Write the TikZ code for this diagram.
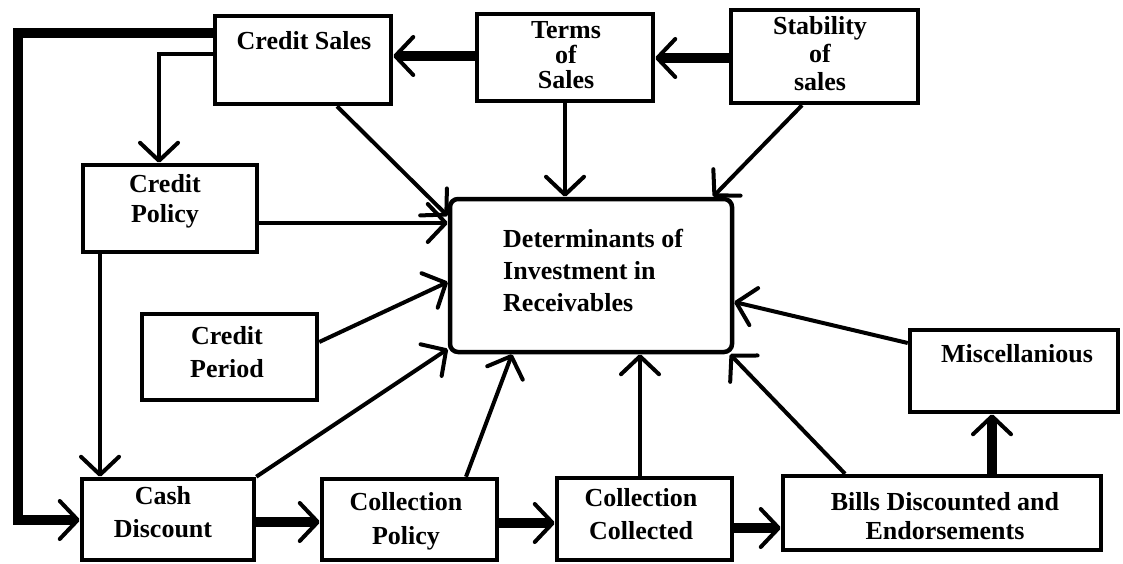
\documentclass[tikz,border=0pt]{standalone}
\usepackage{fontspec}
\setmainfont{Liberation Serif}
\usetikzlibrary{arrows.meta}
\tikzset{
  box/.style={draw,line width=4.5pt,inner sep=0pt},
  txt/.style={align=center,inner sep=0pt,font=\bfseries\fontsize{26}{33}\selectfont},
  link/.style={line width=4pt,-{Straight Barb[length=18pt,width=38pt,line width=4pt,round]}},
  mainlink/.style={line width=10pt,-{Straight Barb[length=18pt,width=38pt,line width=4pt,round]}},
}
\begin{document}
\begin{tikzpicture}[x=1pt,y=-1pt]
\useasboundingbox (0,0) rectangle (1123,564);
\node[box,minimum width=176pt,minimum height=88pt] (cs) at (303,60) {};
\node[box,minimum width=176pt,minimum height=87pt] (ts) at (565,57.5) {};
\node[box,minimum width=187pt,minimum height=93pt] (ss) at (824.5,56.5) {};
\node[box,minimum width=174pt,minimum height=87pt] (cpol) at (170,208.5) {};
\node[box,minimum width=175pt,minimum height=86pt] (cper) at (229.5,357) {};
\node[box,rounded corners=8pt,minimum width=282pt,minimum height=153pt] (det) at (591,275.5) {};
\node[box,minimum width=208pt,minimum height=82pt] (misc) at (1014,371) {};
\node[box,minimum width=172pt,minimum height=81pt] (cd) at (168,519.5) {};
\node[box,minimum width=175pt,minimum height=81pt] (colp) at (409.5,519.5) {};
\node[box,minimum width=175pt,minimum height=82pt] (colc) at (644.5,519) {};
\node[box,minimum width=318pt,minimum height=74pt] (bills) at (942,513) {};
\node[txt] (cstxt) at (304,41) {Credit Sales};
\node[txt,font=\bfseries\fontsize{26}{25}\selectfont] (tstxt) at (566,55) {Terms\\of\\Sales};
\node[txt,font=\bfseries\fontsize{26}{28}\selectfont] (sstxt) at (820,54) {Stability\\of\\sales};
\node[txt,font=\bfseries\fontsize{26}{30}\selectfont] (cpoltxt) at (165,201) {Credit\\Policy};
\node[txt] (cpertxt) at (227,352) {Credit\\Period};
\node[txt,align=left,anchor=west,font=\bfseries\fontsize{26}{32}\selectfont] (dettxt) at (503,270) {Determinants of\\Investment in\\Receivables};
\node[txt] (misctxt) at (1017,354) {Miscellanious};
\node[txt] (cdtxt) at (163,512) {Cash\\Discount};
\node[txt,font=\bfseries\fontsize{26}{34}\selectfont] (colptxt) at (406,521) {Collection\\Policy};
\node[txt] (colctxt) at (641,514) {Collection\\Collected};
\node[txt,font=\bfseries\fontsize{26}{29}\selectfont] (billstxt) at (945,516) {Bills Discounted and\\Endorsements};
\coordinate (bend) at (18,33);
\draw[mainlink] (cs.west |- 0,33) -- (bend) |- (cd.west |- 0,520);
\draw[mainlink] (ts.west |- 0,56) -- (cs.east |- 0,56);
\draw[mainlink] (ss.west |- 0,58) -- (ts.east |- 0,58);
\draw[link] (cs.west |- 0,54) -| (cpol.north -| 159,0);
\draw[link] (cpol.south -| 100,0) -- (cd.north -| 100,0);
\draw[link] (cs.south -| 337,0) -- (det.west |- 0,216);
\draw[link] (ts.south) -- (ts.south |- det.north);
\draw[link] (ss.south -| 802,0) -- (det.north -| 713,0);
\draw[link] (cpol.east |- 0,223) -- (det.west |- 0,223);
\draw[link] (cper.east |- 0,342) -- (det.west |- 0,282);
\draw[link] (cd.north east) -- (det.west |- 0,349);
\draw[link] (colp.north -| 466,0) -- (det.south -| 512,0);
\draw[link] (colc.north -| 640,0) -- (det.south -| 640,0);
\draw[link] (bills.north -| 845,0) -- (det.south -| 730,0);
\draw[link] (misc.west |- 0,343) -- (det.east |- 0,302);
\draw[mainlink] (cd.east |- 0,522) -- (colp.west |- 0,522);
\draw[mainlink] (colp.east |- 0,523) -- (colc.west |- 0,523);
\draw[mainlink] (colc.east |- 0,528) -- (bills.west |- 0,528);
\draw[mainlink] (bills.north -| 992,0) -- (misc.south -| 992,0);
\end{tikzpicture}
\end{document}
